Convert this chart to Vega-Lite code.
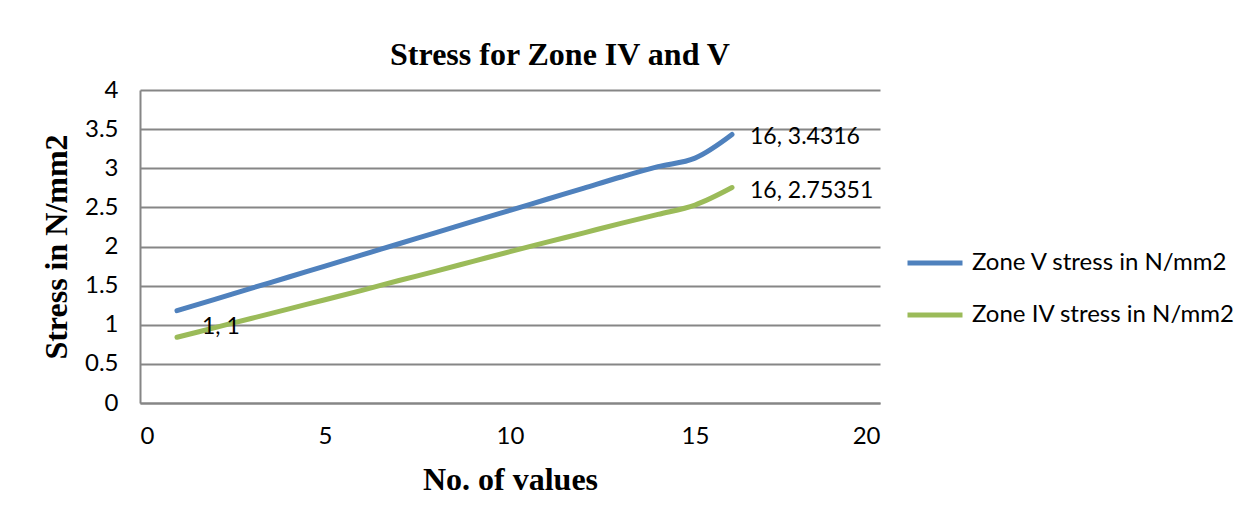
{
  "$schema": "https://vega.github.io/schema/vega-lite/v6.json",
  "autosize": {"type": "none"},
  "width": 740,
  "height": 313,
  "padding": {"left": 140, "top": 90, "right": 375, "bottom": 117},
  "background": "white",
  "title": {
    "text": "Stress for Zone  IV and V",
    "font": "Liberation Serif",
    "fontSize": 32,
    "fontWeight": "bold",
    "color": "#000000",
    "anchor": "middle",
    "frame": "group",
    "dx": 50,
    "offset": 6
  },
  "config": {
    "view": {"stroke": null},
    "axis": {
      "labelFont": "Lato",
      "labelFontSize": 24,
      "labelColor": "#000000",
      "labelOverlap": false,
      "titleFont": "Liberation Serif",
      "titleFontSize": 32,
      "titleFontWeight": "bold",
      "titleColor": "#000000",
      "domainColor": "#868686",
      "domainWidth": 2,
      "gridColor": "#868686",
      "gridWidth": 2,
      "ticks": false
    }
  },
  "datasets": {
    "series": [
      {"n": 1, "stress": 1.18, "zone": "Zone V stress in N/mm2"},
      {"n": 2, "stress": 1.322, "zone": "Zone V stress in N/mm2"},
      {"n": 3, "stress": 1.465, "zone": "Zone V stress in N/mm2"},
      {"n": 4, "stress": 1.607, "zone": "Zone V stress in N/mm2"},
      {"n": 5, "stress": 1.75, "zone": "Zone V stress in N/mm2"},
      {"n": 6, "stress": 1.892, "zone": "Zone V stress in N/mm2"},
      {"n": 7, "stress": 2.035, "zone": "Zone V stress in N/mm2"},
      {"n": 8, "stress": 2.177, "zone": "Zone V stress in N/mm2"},
      {"n": 9, "stress": 2.32, "zone": "Zone V stress in N/mm2"},
      {"n": 10, "stress": 2.462, "zone": "Zone V stress in N/mm2"},
      {"n": 11, "stress": 2.604, "zone": "Zone V stress in N/mm2"},
      {"n": 12, "stress": 2.746, "zone": "Zone V stress in N/mm2"},
      {"n": 13, "stress": 2.888, "zone": "Zone V stress in N/mm2"},
      {"n": 14, "stress": 3.02, "zone": "Zone V stress in N/mm2"},
      {"n": 15, "stress": 3.13, "zone": "Zone V stress in N/mm2"},
      {"n": 16, "stress": 3.4316, "zone": "Zone V stress in N/mm2"},
      {"n": 1, "stress": 0.84, "zone": " Zone IV stress in N/mm2"},
      {"n": 2, "stress": 0.96, "zone": " Zone IV stress in N/mm2"},
      {"n": 3, "stress": 1.08, "zone": " Zone IV stress in N/mm2"},
      {"n": 4, "stress": 1.2, "zone": " Zone IV stress in N/mm2"},
      {"n": 5, "stress": 1.32, "zone": " Zone IV stress in N/mm2"},
      {"n": 6, "stress": 1.44, "zone": " Zone IV stress in N/mm2"},
      {"n": 7, "stress": 1.565, "zone": " Zone IV stress in N/mm2"},
      {"n": 8, "stress": 1.685, "zone": " Zone IV stress in N/mm2"},
      {"n": 9, "stress": 1.81, "zone": " Zone IV stress in N/mm2"},
      {"n": 10, "stress": 1.935, "zone": " Zone IV stress in N/mm2"},
      {"n": 11, "stress": 2.055, "zone": " Zone IV stress in N/mm2"},
      {"n": 12, "stress": 2.175, "zone": " Zone IV stress in N/mm2"},
      {"n": 13, "stress": 2.295, "zone": " Zone IV stress in N/mm2"},
      {"n": 14, "stress": 2.41, "zone": " Zone IV stress in N/mm2"},
      {"n": 15, "stress": 2.53, "zone": " Zone IV stress in N/mm2"},
      {"n": 16, "stress": 2.75351, "zone": " Zone IV stress in N/mm2"}
    ],
    "labels": [
      {"n": 16, "stress": 3.4316, "label": "16, 3.4316"},
      {"n": 16, "stress": 2.75351, "label": "16, 2.75351"}
    ],
    "startLabel": [
      {"n": 1, "stress": 0.84, "label": "1, 1"}
    ]
  },
  "encoding": {
    "x": {
      "field": "n", "type": "quantitative",
      "scale": {"domain": [0, 20], "nice": false},
      "axis": {"values": [0, 5, 10, 15, 20], "format": "~g", "title": "No. of values", "grid": false, "labelPadding": 21, "titlePadding": 16}
    },
    "y": {
      "field": "stress", "type": "quantitative",
      "scale": {"domain": [0, 4], "nice": false},
      "axis": {"values": [0, 0.5, 1, 1.5, 2, 2.5, 3, 3.5, 4], "format": "~g", "title": "Stress in N/mm2", "labelPadding": 22, "titlePadding": 11}
    }
  },
  "layer": [
    {
      "data": {"name": "series"},
      "mark": {"type": "line", "strokeWidth": 5, "interpolate": "catmull-rom", "strokeCap": "round"},
      "encoding": {
        "color": {
          "field": "zone", "type": "nominal",
          "scale": {"domain": ["Zone V stress in N/mm2", " Zone IV stress in N/mm2"], "range": ["#4F81BD", "#9BBB59"]},
          "legend": {
            "title": null,
            "orient": "none",
            "legendX": 765,
            "legendY": 143,
            "symbolType": "stroke",
            "symbolSize": 3025,
            "symbolStrokeWidth": 5,
            "labelFont": "Lato",
            "labelFontSize": 24,
            "labelColor": "#000000",
            "labelOffset": 7,
            "rowPadding": 10,
            "labelLimit": 400
          }
        }
      }
    },
    {
      "data": {"name": "labels"},
      "mark": {"type": "text", "align": "left", "dx": 18, "dy": 3, "font": "Lato", "fontSize": 23, "color": "#000000"},
      "encoding": {
        "text": {"field": "label"}
      }
    },
    {
      "data": {"name": "startLabel"},
      "mark": {"type": "text", "align": "left", "dx": 25, "dy": -10, "font": "Lato", "fontSize": 23, "color": "#000000"},
      "encoding": {
        "text": {"field": "label"}
      }
    }
  ]
}
